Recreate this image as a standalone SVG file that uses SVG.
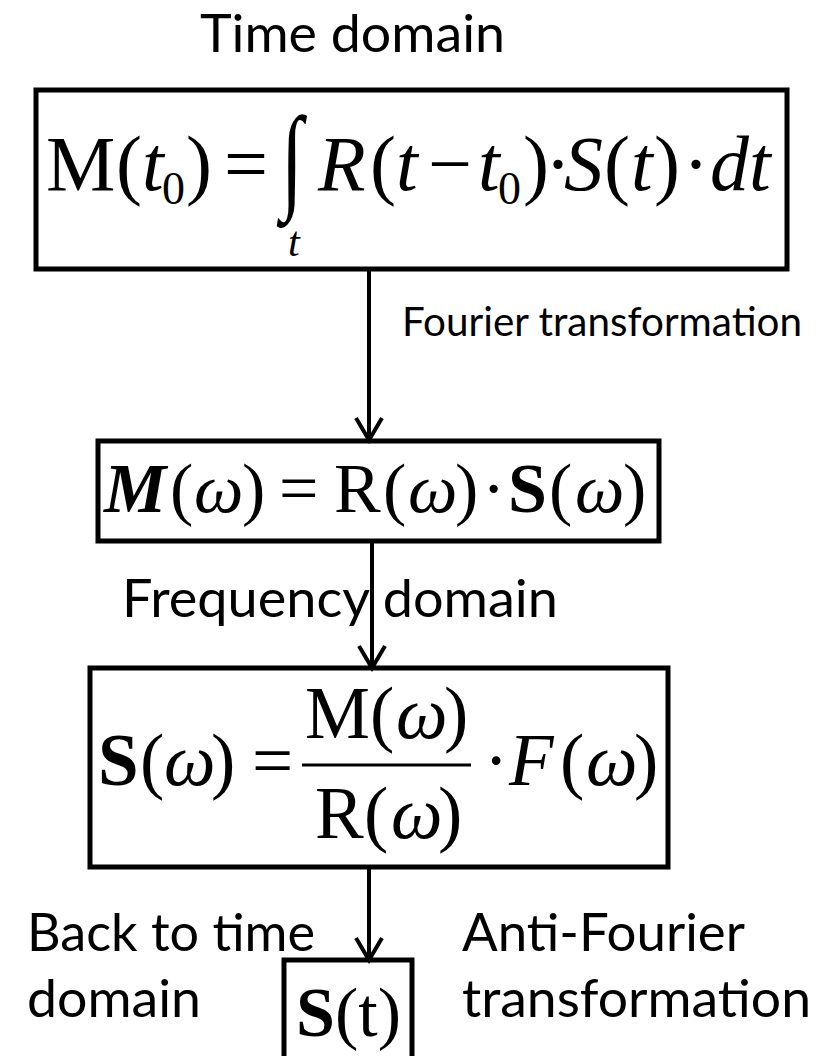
<svg xmlns="http://www.w3.org/2000/svg" width="822" height="1056" viewBox="0 0 822 1056">
<defs>
<style>
.box{fill:none;stroke:#000;stroke-width:5}
.lbl{font-family:Lato,"Liberation Sans",sans-serif;fill:#000}
.big{font-size:52px}
.m{font-family:"Liberation Serif","Times New Roman",serif;fill:#000}
.i{font-style:italic}
.b{font-weight:bold}
.conn{stroke:#000;stroke-width:4;fill:none}
</style>
<marker id="arr" viewBox="-26 -16 30 32" refX="0" refY="0" markerWidth="30" markerHeight="32" markerUnits="userSpaceOnUse" orient="auto">
<path d="M-22,-13 L0,0 L-22,13" fill="none" stroke="#000" stroke-width="4" stroke-linejoin="miter"/>
</marker>
</defs>
<rect width="822" height="1056" fill="#fff"/>

<text class="lbl big" x="200" y="52" textLength="305" lengthAdjust="spacingAndGlyphs">Time domain</text>

<g id="node-time">
<rect class="box" x="36" y="90" width="751" height="179"/>
<text class="m" font-size="78" y="190"><tspan x="46">M</tspan><tspan x="116">(</tspan><tspan class="i" x="142">t</tspan><tspan x="162" dy="14" font-size="46">0</tspan><tspan x="186" dy="-14">)</tspan><tspan x="224">=</tspan><tspan class="i" x="318">R</tspan><tspan x="370">(</tspan><tspan class="i" x="396">t</tspan><tspan x="428">−</tspan><tspan class="i" x="478">t</tspan><tspan x="498" dy="14" font-size="46">0</tspan><tspan x="523" dy="-14">)</tspan><tspan x="545">·</tspan><tspan class="i" x="564">S</tspan><tspan x="604">(</tspan><tspan class="i" x="631">t</tspan><tspan x="654">)</tspan><tspan x="683">·</tspan><tspan class="i" x="710">dt</tspan></text>
<text class="m" font-size="80" transform="translate(281,197) scale(1,1.45)">∫</text>
<text class="m i" font-size="42" x="288" y="256">t</text>
</g>

<g id="node-freq">
<rect class="box" x="98" y="441" width="561" height="100"/>
<text class="m" font-size="70" y="512"><tspan class="i b" x="104">M</tspan><tspan x="170">(</tspan><tspan class="i" x="194">ω</tspan><tspan x="242">)</tspan><tspan x="279">=</tspan><tspan x="334">R</tspan><tspan x="383">(</tspan><tspan class="i" x="408">ω</tspan><tspan x="455">)</tspan><tspan x="482">·</tspan><tspan class="b" x="508">S</tspan><tspan x="549">(</tspan><tspan class="i" x="575">ω</tspan><tspan x="623">)</tspan></text>
</g>

<g id="node-solve">
<rect class="box" x="90" y="668" width="578" height="199"/>
<text class="m" font-size="73" y="785"><tspan class="b" x="98">S</tspan><tspan x="140">(</tspan><tspan class="i" x="164">ω</tspan><tspan x="211">)</tspan><tspan x="252">=</tspan><tspan x="484">·</tspan><tspan class="i" x="509">F</tspan><tspan x="560">(</tspan><tspan class="i" x="586">ω</tspan><tspan x="634">)</tspan></text>
<text class="m" font-size="73" y="738"><tspan x="305">M</tspan><tspan x="370">(</tspan><tspan class="i" x="396">ω</tspan><tspan x="444">)</tspan></text>
<line x1="302" y1="765" x2="471" y2="765" stroke="#000" stroke-width="3"/>
<text class="m" font-size="73" y="838"><tspan x="315">R</tspan><tspan x="364">(</tspan><tspan class="i" x="391">ω</tspan><tspan x="438">)</tspan></text>
</g>

<g id="node-st">
<rect class="box" x="284" y="960" width="128" height="130"/>
<text class="m" font-size="70" x="296" y="1036"><tspan class="b">S</tspan>(t)</text>
</g>

<g id="connectors">
<line class="conn" x1="369" y1="269" x2="369" y2="440" marker-end="url(#arr)"/>
<line class="conn" x1="372" y1="541" x2="372" y2="668" marker-end="url(#arr)"/>
<line class="conn" x1="369" y1="867" x2="369" y2="960" marker-end="url(#arr)"/>
</g>

<text class="lbl" font-size="40" x="402" y="336" textLength="400" lengthAdjust="spacingAndGlyphs">Fourier transformation</text>
<text class="lbl big" x="122" y="617" textLength="436" lengthAdjust="spacingAndGlyphs">Frequency domain</text>
<text class="lbl big" x="27" y="951" textLength="288" lengthAdjust="spacingAndGlyphs">Back to time</text>
<text class="lbl big" x="27" y="1017" textLength="174" lengthAdjust="spacingAndGlyphs">domain</text>
<text class="lbl big" x="462" y="951" textLength="283" lengthAdjust="spacingAndGlyphs">Anti-Fourier</text>
<text class="lbl big" x="462" y="1017" textLength="349" lengthAdjust="spacingAndGlyphs">transformation</text>
</svg>
